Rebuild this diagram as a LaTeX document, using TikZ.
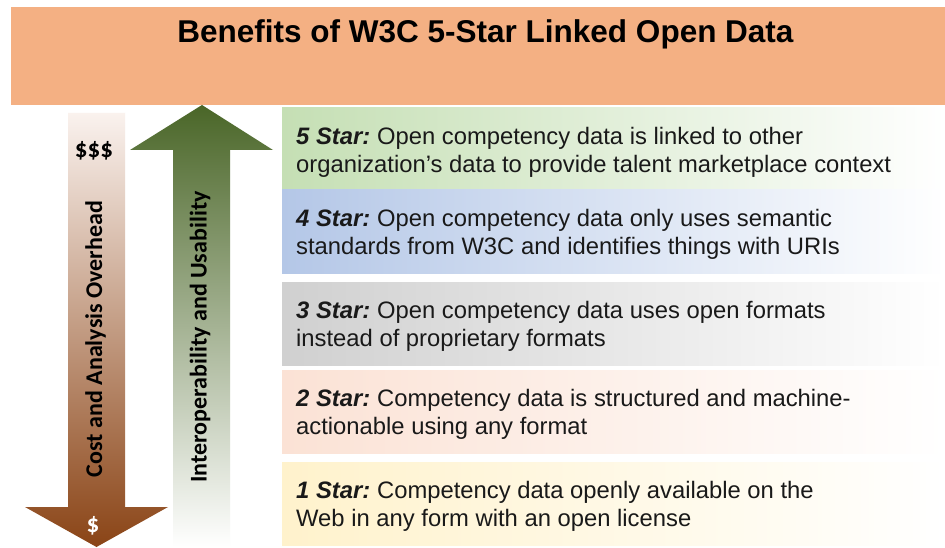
\documentclass[tikz,border=0pt]{standalone}
\usepackage{fontspec}
\setmainfont{Liberation Sans}
\newfontfamily\calib{Carlito}
\definecolor{band}{HTML}{F4B083}
\definecolor{gfive}{HTML}{C5DFB4}
\definecolor{bfour}{HTML}{B4C7E7}
\definecolor{grthree}{HTML}{D0D0D0}
\definecolor{ptwo}{HTML}{FBE2D5}
\definecolor{yone}{HTML}{FFF2CC}
\definecolor{browntop}{HTML}{FAF2EE}
\definecolor{brownbot}{HTML}{8A4416}
\definecolor{greentop}{HTML}{4A6628}
\definecolor{greenmid}{HTML}{8FA67D}
\begin{document}
\begin{tikzpicture}[x=1pt,y=-1pt,
  rowtext/.style={anchor=west, inner sep=0pt, align=left, text=black!90, font=\fontsize{23.8}{28}\selectfont},
  arrowtext/.style={rotate=90, inner sep=0pt, font=\calib\bfseries\fontsize{24}{28}\selectfont},
  dollar/.style={inner sep=0pt, font=\calib\bfseries\fontsize{25}{30}\selectfont}]
\useasboundingbox (0,0) rectangle (945,548);
\fill[white] (0,0) rectangle (945,548);
% title band
\fill[band] (11,7) rectangle (945,105);
\node[anchor=base, inner sep=0pt, font=\bfseries\fontsize{31.5}{36}\selectfont] (title) at (485.5,43) {Benefits of W3C 5-Star Linked Open Data};
% rows
\shade[left color=gfive, right color=white] (282,108) rectangle (945,190);
\shade[left color=bfour, right color=white] (282,190) rectangle (945,273);
\shade[left color=grthree, right color=white] (282,282) rectangle (945,365);
\shade[left color=ptwo, right color=white] (282,370) rectangle (945,453);
\shade[left color=yone, right color=white] (282,462) rectangle (945,545);
\node[rowtext] (s5) at (296,152) {\textbf{\textit{5 Star:}}\hspace{-2pt} Open competency data is linked to other\\organization’s data to provide talent marketplace context};
\node[rowtext] (s4) at (296,234) {\textbf{\textit{4 Star:}}\hspace{-2pt} Open competency data only uses semantic\\standards from W3C and identifies things with URIs};
\node[rowtext] (s3) at (296,326) {\textbf{\textit{3 Star:}}\hspace{-2pt} Open competency data uses open formats\\instead of proprietary formats};
\node[rowtext] (s2) at (296,414) {\textbf{\textit{2 Star:}}\hspace{-2pt} Competency data is structured and machine-\\actionable using any format};
\node[rowtext] (s1) at (296,506) {\textbf{\textit{1 Star:}}\hspace{-2pt} Competency data openly available on the\\Web in any form with an open license};
% brown arrow
\shade[top color=browntop, bottom color=brownbot]
  (68,113) -- (125,113) -- (125,507) -- (168,507) -- (96.5,547) -- (25,507) -- (68,507) -- cycle;
% green arrow
\shade[top color=greentop, middle color=greenmid, bottom color=white]
  (202,105) -- (273,150) -- (230,150) -- (230,547) -- (173,547) -- (173,150) -- (130,150) -- cycle;
\node[arrowtext] (cost) at (95.5,339) {Cost and Analysis Overhead};
\node[arrowtext] (interop) at (200,337) {Interoperability and Usability};
\node[dollar] (hi) at (94,151) {\$\$\$};
\node[dollar, text=white] (lo) at (93,526) {\$};
\end{tikzpicture}
\end{document}
